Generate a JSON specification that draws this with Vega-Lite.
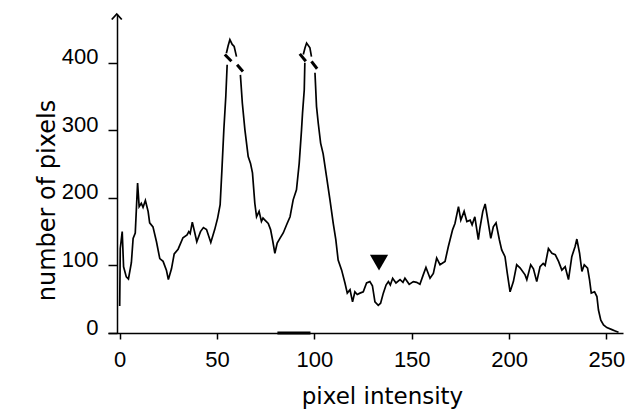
{
  "$schema": "https://vega.github.io/schema/vega-lite/v6.json",
  "width": 515,
  "height": 319,
  "autosize": {"type": "none"},
  "padding": {"left": 108, "top": 14, "right": 9, "bottom": 77},
  "background": "white",
  "config": {"view": {"stroke": null}},
  "datasets": {
    "curve": [
      {"x": 0, "v": 40, "seg": 1}, {"x": 0.3, "v": 125, "seg": 1}, {"x": 1.3, "v": 150, "seg": 1}, {"x": 2, "v": 98, "seg": 1},
      {"x": 3.4, "v": 83, "seg": 1}, {"x": 4.5, "v": 80, "seg": 1}, {"x": 6, "v": 104, "seg": 1}, {"x": 6.9, "v": 140, "seg": 1},
      {"x": 8, "v": 148, "seg": 1}, {"x": 9.2, "v": 222, "seg": 1}, {"x": 10, "v": 187, "seg": 1}, {"x": 11.1, "v": 192, "seg": 1},
      {"x": 12, "v": 186, "seg": 1}, {"x": 13.2, "v": 196, "seg": 1}, {"x": 14.6, "v": 180, "seg": 1}, {"x": 15.4, "v": 163, "seg": 1},
      {"x": 17.1, "v": 157, "seg": 1}, {"x": 18.9, "v": 135, "seg": 1}, {"x": 20.6, "v": 110, "seg": 1}, {"x": 22.3, "v": 106, "seg": 1},
      {"x": 24, "v": 93, "seg": 1}, {"x": 25, "v": 79, "seg": 1}, {"x": 26.6, "v": 95, "seg": 1}, {"x": 28, "v": 117, "seg": 1},
      {"x": 30, "v": 124, "seg": 1}, {"x": 32.5, "v": 141, "seg": 1}, {"x": 34.6, "v": 145, "seg": 1}, {"x": 35.5, "v": 150, "seg": 1},
      {"x": 36.2, "v": 147, "seg": 1}, {"x": 37.3, "v": 164, "seg": 1}, {"x": 38.6, "v": 148, "seg": 1}, {"x": 39.6, "v": 135, "seg": 1},
      {"x": 41.5, "v": 150, "seg": 1}, {"x": 43, "v": 156, "seg": 1}, {"x": 44.6, "v": 153, "seg": 1}, {"x": 46.8, "v": 134, "seg": 1},
      {"x": 48.8, "v": 153, "seg": 1}, {"x": 50.3, "v": 170, "seg": 1}, {"x": 51.6, "v": 190, "seg": 1}, {"x": 52.5, "v": 241, "seg": 1},
      {"x": 53.5, "v": 301, "seg": 1}, {"x": 54.5, "v": 350, "seg": 1}, {"x": 55.2, "v": 397, "seg": 1},
      {"x": 54.8, "v": 414, "seg": 2}, {"x": 55.7, "v": 425, "seg": 2}, {"x": 56.6, "v": 434, "seg": 2}, {"x": 57.8, "v": 427, "seg": 2},
      {"x": 58.8, "v": 424, "seg": 2}, {"x": 60, "v": 409, "seg": 2},
      {"x": 62, "v": 382, "seg": 3}, {"x": 63, "v": 340, "seg": 3}, {"x": 64.3, "v": 301, "seg": 3}, {"x": 66, "v": 261, "seg": 3},
      {"x": 67.2, "v": 251, "seg": 3}, {"x": 68.2, "v": 237, "seg": 3}, {"x": 69.4, "v": 192, "seg": 3}, {"x": 70.3, "v": 172, "seg": 3},
      {"x": 71.6, "v": 180, "seg": 3}, {"x": 72.8, "v": 165, "seg": 3}, {"x": 73.6, "v": 170, "seg": 3}, {"x": 74.6, "v": 167, "seg": 3},
      {"x": 76.3, "v": 162, "seg": 3}, {"x": 77.5, "v": 153, "seg": 3}, {"x": 78.5, "v": 138, "seg": 3}, {"x": 79.7, "v": 118, "seg": 3},
      {"x": 80.9, "v": 133, "seg": 3}, {"x": 82.3, "v": 140, "seg": 3}, {"x": 84, "v": 148, "seg": 3}, {"x": 86, "v": 162, "seg": 3},
      {"x": 87.5, "v": 172, "seg": 3}, {"x": 89.1, "v": 197, "seg": 3}, {"x": 90.8, "v": 212, "seg": 3}, {"x": 92.2, "v": 251, "seg": 3},
      {"x": 93.4, "v": 301, "seg": 3}, {"x": 93.9, "v": 325, "seg": 3}, {"x": 94.8, "v": 360, "seg": 3}, {"x": 95.1, "v": 400, "seg": 3},
      {"x": 94.3, "v": 412, "seg": 4}, {"x": 95.2, "v": 422, "seg": 4}, {"x": 96, "v": 429, "seg": 4}, {"x": 97.7, "v": 422, "seg": 4},
      {"x": 98.5, "v": 409, "seg": 4},
      {"x": 100.3, "v": 385, "seg": 5}, {"x": 101.1, "v": 335, "seg": 5}, {"x": 102, "v": 310, "seg": 5}, {"x": 103.2, "v": 281, "seg": 5},
      {"x": 104.5, "v": 265, "seg": 5}, {"x": 106.2, "v": 232, "seg": 5}, {"x": 108, "v": 197, "seg": 5}, {"x": 109.7, "v": 162, "seg": 5},
      {"x": 111, "v": 138, "seg": 5}, {"x": 112.2, "v": 108, "seg": 5}, {"x": 114, "v": 93, "seg": 5}, {"x": 115.7, "v": 74, "seg": 5},
      {"x": 116.9, "v": 59, "seg": 5}, {"x": 118.3, "v": 64, "seg": 5}, {"x": 119.6, "v": 46, "seg": 5}, {"x": 120.8, "v": 61, "seg": 5},
      {"x": 122, "v": 57, "seg": 5}, {"x": 123.4, "v": 59, "seg": 5}, {"x": 125.1, "v": 61, "seg": 5}, {"x": 126.8, "v": 74, "seg": 5},
      {"x": 128.5, "v": 76, "seg": 5}, {"x": 129.8, "v": 70, "seg": 5}, {"x": 131.1, "v": 46, "seg": 5}, {"x": 132.8, "v": 41, "seg": 5},
      {"x": 134, "v": 44, "seg": 5}, {"x": 135.4, "v": 59, "seg": 5}, {"x": 136.8, "v": 71, "seg": 5}, {"x": 138, "v": 76, "seg": 5},
      {"x": 139, "v": 71, "seg": 5}, {"x": 140.2, "v": 81, "seg": 5}, {"x": 141.9, "v": 74, "seg": 5}, {"x": 144, "v": 79, "seg": 5},
      {"x": 145.5, "v": 75, "seg": 5}, {"x": 146.5, "v": 81, "seg": 5}, {"x": 148.7, "v": 72, "seg": 5}, {"x": 150.8, "v": 76, "seg": 5},
      {"x": 152.5, "v": 75, "seg": 5}, {"x": 154.2, "v": 72, "seg": 5}, {"x": 155.9, "v": 86, "seg": 5}, {"x": 157.3, "v": 97, "seg": 5},
      {"x": 159.4, "v": 81, "seg": 5}, {"x": 161.1, "v": 88, "seg": 5}, {"x": 162.8, "v": 111, "seg": 5}, {"x": 164.5, "v": 101, "seg": 5},
      {"x": 167.1, "v": 106, "seg": 5}, {"x": 168.8, "v": 128, "seg": 5}, {"x": 171, "v": 153, "seg": 5}, {"x": 172.2, "v": 162, "seg": 5},
      {"x": 174, "v": 187, "seg": 5}, {"x": 175.2, "v": 167, "seg": 5}, {"x": 176.9, "v": 180, "seg": 5}, {"x": 178.3, "v": 165, "seg": 5},
      {"x": 180, "v": 167, "seg": 5}, {"x": 181, "v": 160, "seg": 5}, {"x": 182.4, "v": 172, "seg": 5}, {"x": 184.2, "v": 138, "seg": 5},
      {"x": 185, "v": 155, "seg": 5}, {"x": 186.5, "v": 180, "seg": 5}, {"x": 187.7, "v": 191, "seg": 5}, {"x": 188.8, "v": 172, "seg": 5},
      {"x": 190.6, "v": 140, "seg": 5}, {"x": 191.9, "v": 157, "seg": 5}, {"x": 193.3, "v": 163, "seg": 5}, {"x": 195, "v": 138, "seg": 5},
      {"x": 196.2, "v": 123, "seg": 5}, {"x": 197.9, "v": 113, "seg": 5}, {"x": 199.1, "v": 88, "seg": 5}, {"x": 200.5, "v": 61, "seg": 5},
      {"x": 202.2, "v": 76, "seg": 5}, {"x": 203.9, "v": 101, "seg": 5}, {"x": 205.7, "v": 96, "seg": 5}, {"x": 208.2, "v": 86, "seg": 5},
      {"x": 209.1, "v": 79, "seg": 5}, {"x": 211.1, "v": 101, "seg": 5}, {"x": 212.5, "v": 95, "seg": 5}, {"x": 214.2, "v": 76, "seg": 5},
      {"x": 215.9, "v": 98, "seg": 5}, {"x": 217.5, "v": 103, "seg": 5}, {"x": 218.5, "v": 100, "seg": 5}, {"x": 220.2, "v": 125, "seg": 5},
      {"x": 222, "v": 118, "seg": 5}, {"x": 223.7, "v": 116, "seg": 5}, {"x": 225.4, "v": 106, "seg": 5}, {"x": 227.1, "v": 93, "seg": 5},
      {"x": 228.8, "v": 98, "seg": 5}, {"x": 230.5, "v": 79, "seg": 5}, {"x": 232.2, "v": 113, "seg": 5}, {"x": 233.9, "v": 128, "seg": 5},
      {"x": 234.8, "v": 139, "seg": 5}, {"x": 236.2, "v": 118, "seg": 5}, {"x": 237.4, "v": 91, "seg": 5}, {"x": 238.6, "v": 101, "seg": 5},
      {"x": 240.3, "v": 96, "seg": 5}, {"x": 241.3, "v": 79, "seg": 5}, {"x": 242.2, "v": 59, "seg": 5}, {"x": 243.9, "v": 61, "seg": 5},
      {"x": 245.1, "v": 54, "seg": 5}, {"x": 245.9, "v": 34, "seg": 5}, {"x": 247.1, "v": 19, "seg": 5}, {"x": 248.5, "v": 12, "seg": 5},
      {"x": 250.2, "v": 8, "seg": 5}, {"x": 252.8, "v": 5, "seg": 5}, {"x": 254.5, "v": 3, "seg": 5}, {"x": 256.2, "v": 1, "seg": 5}
    ],
    "breaks": [
      {"x": 54, "v": 412, "xb": 57.4, "vb": 402},
      {"x": 60.3, "v": 397, "xb": 63.3, "vb": 387},
      {"x": 92.5, "v": 413, "xb": 95.6, "vb": 402},
      {"x": 98.5, "v": 402, "xb": 101.4, "vb": 391}
    ],
    "marker": [{"x": 133.2, "v": 104}],
    "arrow": [{"x": -1.5, "v": 472}],
    "smudge": [{"x": 81, "xb": 98, "v": 0}]
  },
  "layer": [
    {
      "data": {"name": "curve"},
      "mark": {"type": "line", "color": "black", "strokeWidth": 1.7, "strokeJoin": "miter"},
      "encoding": {
        "x": {
          "field": "x", "type": "quantitative",
          "scale": {"domain": [-6, 258.5], "nice": false, "zero": false},
          "axis": {
            "title": "pixel intensity", "values": [0, 50, 100, 150, 200, 250],
            "grid": false, "domainColor": "black", "domainWidth": 1.5,
            "tickColor": "black", "tickWidth": 1.5, "tickSize": 6,
            "labelFont": "Liberation Sans", "labelFontSize": 22, "labelColor": "black", "labelPadding": 10,
            "titleFont": "DejaVu Sans", "titleFontSize": 23, "titleFontWeight": "normal", "titleColor": "black",
            "titleX": 274, "titleY": 70, "titleAlign": "center", "titleBaseline": "alphabetic"
          }
        },
        "y": {
          "field": "v", "type": "quantitative",
          "scale": {"domain": [0, 472], "nice": false},
          "axis": {
            "title": "number of pixels", "values": [0, 100, 200, 300, 400], "offset": -9,
            "grid": false, "domainColor": "black", "domainWidth": 1.5,
            "tickColor": "black", "tickWidth": 1.5, "tickSize": 9,
            "labelFont": "Liberation Sans", "labelFontSize": 22, "labelColor": "black", "labelPadding": 10, "labelOffset": -6,
            "titleFont": "DejaVu Sans", "titleFontSize": 24, "titleFontWeight": "normal", "titleColor": "black",
            "titleX": -70, "titleY": 186, "titleAngle": -90, "titleAlign": "center", "titleBaseline": "middle"
          }
        },
        "detail": {"field": "seg"}
      }
    },
    {
      "data": {"name": "breaks"},
      "mark": {"type": "rule", "color": "black", "strokeWidth": 3},
      "encoding": {
        "x": {"field": "x", "type": "quantitative"},
        "x2": {"field": "xb"},
        "y": {"field": "v", "type": "quantitative"},
        "y2": {"field": "vb"}
      }
    },
    {
      "data": {"name": "smudge"},
      "mark": {"type": "rule", "color": "black", "strokeWidth": 3},
      "encoding": {
        "x": {"field": "x", "type": "quantitative"},
        "x2": {"field": "xb"},
        "y": {"field": "v", "type": "quantitative"}
      }
    },
    {
      "data": {"name": "marker"},
      "mark": {"type": "point", "shape": "triangle-down", "filled": true, "color": "black", "opacity": 1, "size": 330},
      "encoding": {
        "x": {"field": "x", "type": "quantitative"},
        "y": {"field": "v", "type": "quantitative"}
      }
    },
    {
      "data": {"name": "arrow"},
      "mark": {"type": "point", "shape": "M-1,1.1L0,0L1,1.1", "filled": false, "color": "black", "strokeWidth": 1.8, "opacity": 1, "size": 100},
      "encoding": {
        "x": {"field": "x", "type": "quantitative"},
        "y": {"field": "v", "type": "quantitative"}
      }
    }
  ]
}
